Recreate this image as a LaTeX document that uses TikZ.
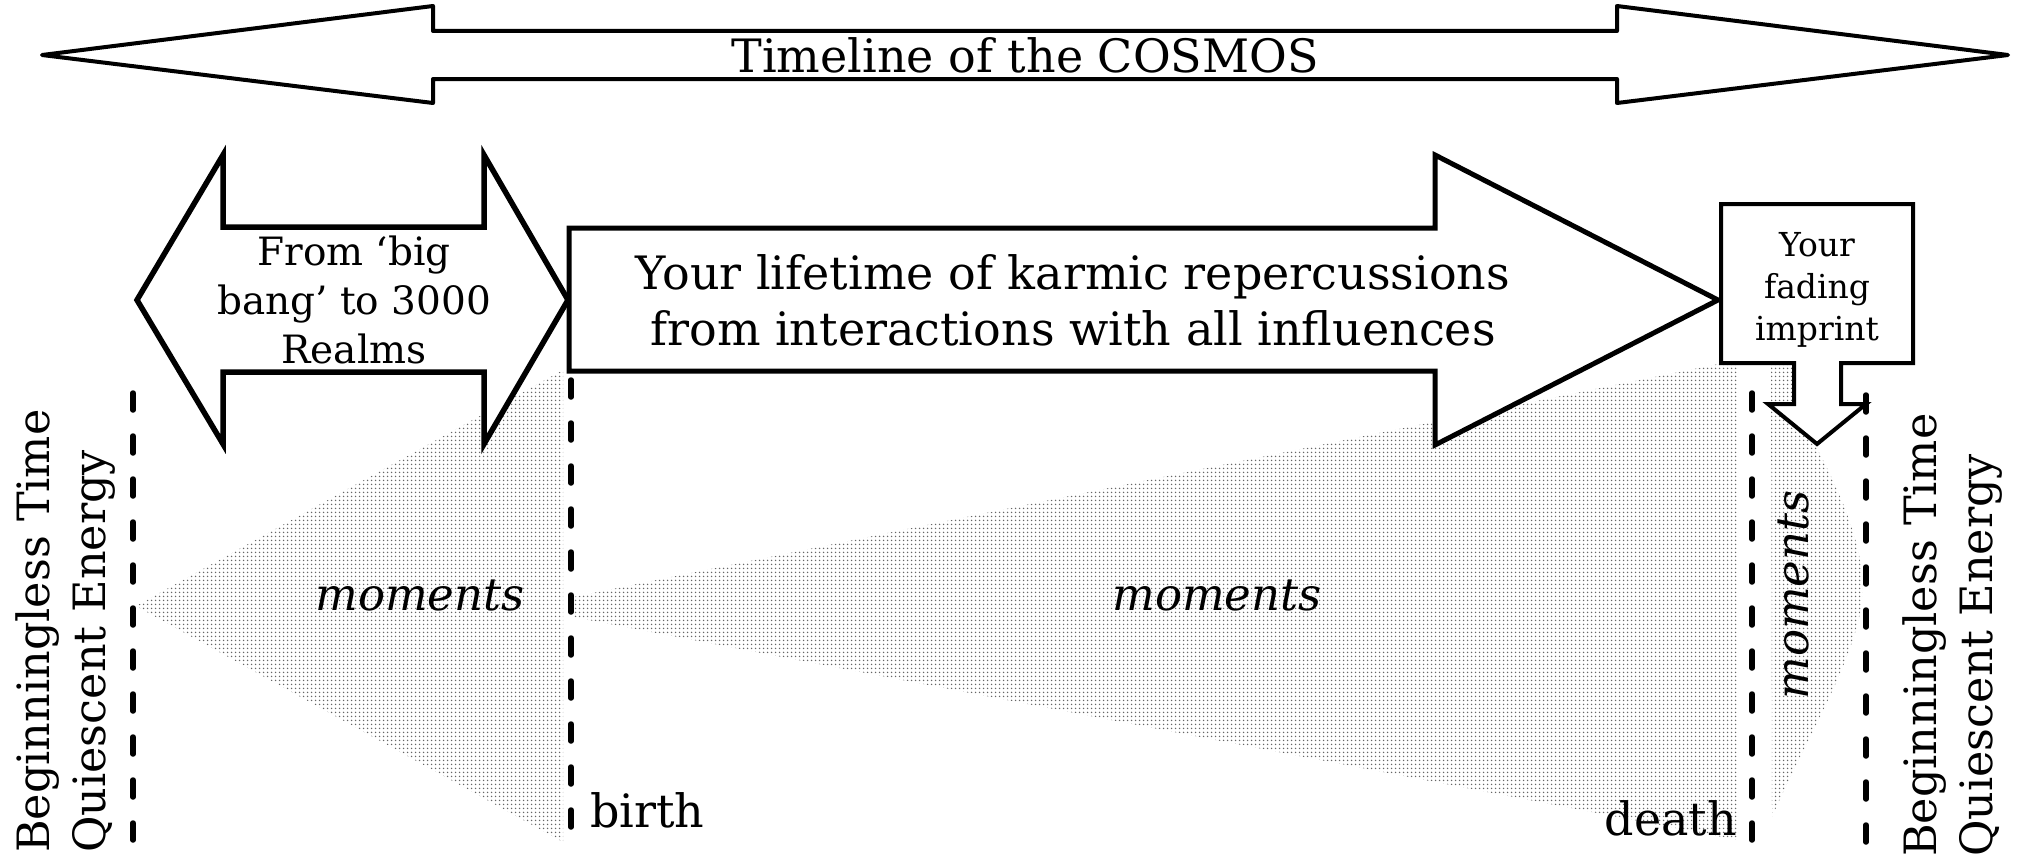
\documentclass[tikz,border=0pt]{standalone}
\usepackage{fontspec}
\setmainfont{DejaVu Serif}
\usetikzlibrary{patterns.meta}

\begin{document}
\begin{tikzpicture}[x=1pt,y=-1pt,
		blockarrow/.style={draw=black,fill=white,line width=5pt},
		stipple/.style={pattern={Dots[distance=4pt,radius=0.95pt]},pattern color=black!60},
		divider/.style={draw=black,line width=5.5pt,line cap=round,dash pattern=on 17pt off 26pt},
		bigtext/.style={font=\fontsize{46}{56}\selectfont},
		midtext/.style={font=\fontsize{39}{49}\selectfont},
		smalltext/.style={font=\fontsize{33}{42}\selectfont},
		sidetext/.style={font=\fontsize{44.5}{56}\selectfont},
		momtext/.style={font=\fontsize{45}{50}\selectfont\itshape}]
			\tikzstyle{every node}+=[inner sep=0pt]
			\useasboundingbox (0,0) rectangle (2017,859);
			% dotted areas
			\fill [stipple] (136,606) -- (563,370) -- (563,842) -- cycle;
			\fill [stipple] (573,597) -- (1738,360) -- (1738,840) -- (573,617) -- cycle;
			\fill [stipple] (1771,363) -- (1800,363) -- (1815,445) .. controls (1850,510) and (1866,560) .. (1862,600) .. controls (1856,660) and (1800,750) .. (1772,817) -- cycle;
			% time markers
			\draw [divider] (133,393) -- (133,845);
			\draw [divider] (571,380) -- (571,845);
			\draw [divider] (1752,393) -- (1752,845);
			\draw [divider] (1866,395) -- (1866,845);
			% arrows
			\draw [blockarrow,line width=4pt,line join=round] (42,55) -- (433,6) -- (433,31) -- (1617,31) -- (1617,6) -- (2008,55) -- (1617,103) -- (1617,79) -- (433,79) -- (433,103) -- cycle;
			\draw [blockarrow,line width=5.5pt] (137,300) -- (223,155) -- (223,227) -- (484,227) -- (484,155) -- (568,300) -- (484,444) -- (484,372) -- (223,372) -- (223,444) -- cycle;
			\draw [blockarrow] (569,228) -- (1435,228) -- (1435,155) -- (1718,300) -- (1435,445) -- (1435,371) -- (569,371) -- cycle;
			\draw [blockarrow,line width=4pt] (1721,204) -- (1913,204) -- (1913,363) -- (1841,363) -- (1841,404) -- (1866,404) -- (1817,444) -- (1768,404) -- (1794,404) -- (1794,363) -- (1721,363) -- cycle;
			% labels
			\node [bigtext,anchor=base] (timeline) at (1025,72) {Timeline of the COSMOS};
			\node [bigtext,align=center] (lifetime) at (1073,300) {Your lifetime of karmic repercussions\\from interactions with all influences};
			\node [midtext,align=center] (bigbang) at (354,300) {From ‘big\\bang’ to 3000\\Realms};
			\node [smalltext,align=center] (imprint) at (1817,290) {Your\\fading\\imprint};
			\node [sidetext,rotate=90,anchor=north west,align=left] (startL) at (15,853) {Beginningless Time\\Quiescent Energy};
			\node [sidetext,rotate=90,anchor=north west,align=left] (startR) at (1902,857) {Beginningless Time\\Quiescent Energy};
			\node [momtext,anchor=base] (momentsL) at (420,610) {moments};
			\node [momtext,anchor=base] (momentsM) at (1217,610) {moments};
			\node [momtext,anchor=base,rotate=90] (momentsR) at (1808,595) {moments};
			\node [bigtext,anchor=base west] (birth) at (590,827) {birth};
			\node [bigtext,anchor=base east] (death) at (1737,835) {death};
		\end{tikzpicture}
\end{document}
